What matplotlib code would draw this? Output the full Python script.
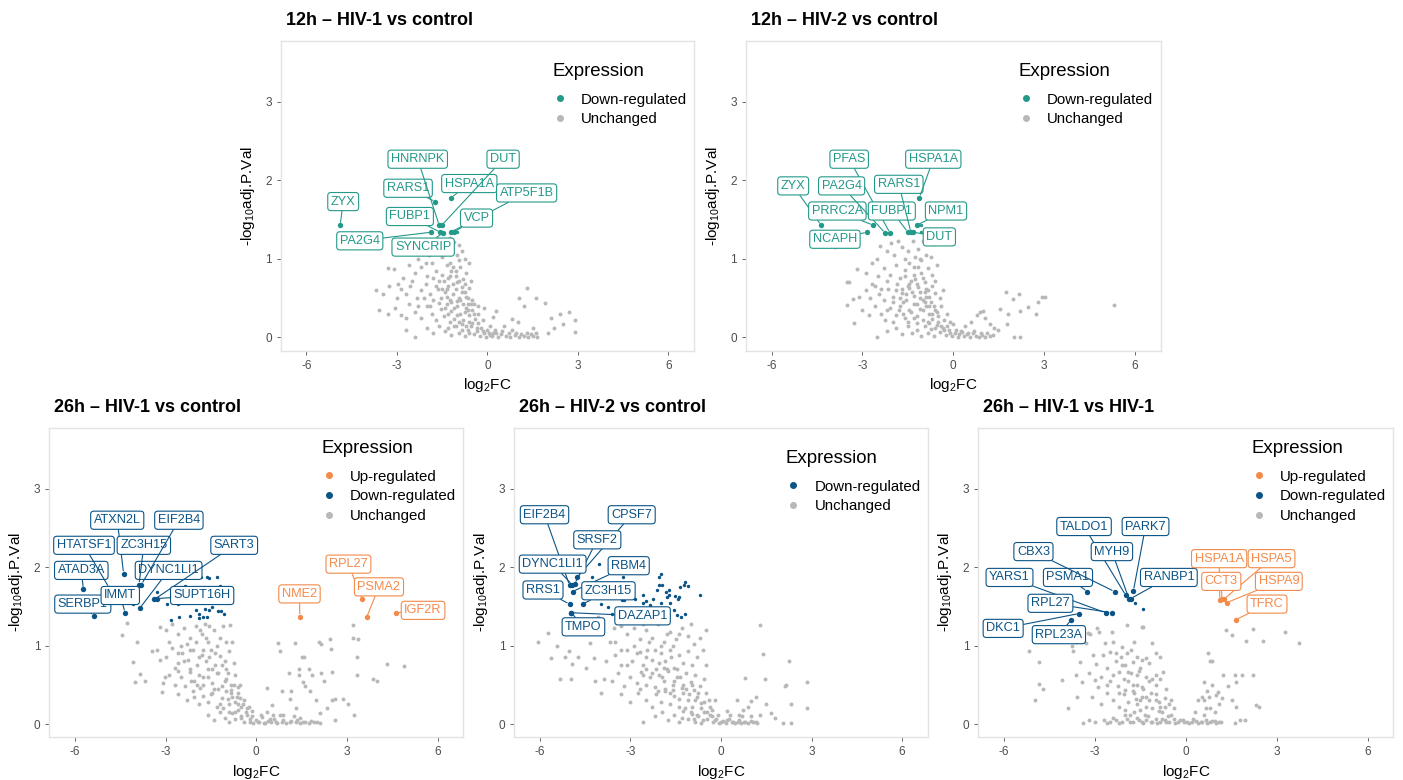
import numpy as np
import matplotlib
matplotlib.use("Agg")
import matplotlib.pyplot as plt
from matplotlib.lines import Line2D

plt.rcParams["font.family"] = ["Liberation Sans", "DejaVu Sans"]
plt.rcParams["mathtext.default"] = "regular"
plt.rcParams["axes.unicode_minus"] = False

TEAL = "#23998A"
BLUE = "#0B5487"
ORANGE = "#F48A4A"
GREY = "#B8B8B8"

# ---------------- 12h HIV-1 vs control ----------------
t1_down_genes = ["ZYX", "RARS1", "HSPA1A", "HNRNPK", "DUT", "FUBP1", "PA2G4", "SYNCRIP", "ATP5F1B", "VCP"]
t1_down_fc = [-4.88, -1.73, -1.20, -1.60, -1.51, -1.57, -1.86, -1.48, -1.22, -1.11]
t1_down_p = [1.43, 1.73, 1.78, 1.43, 1.43, 1.34, 1.34, 1.33, 1.34, 1.34]
t1_small_fc = [-1.02]
t1_small_p = [1.34]
t1_grey = [
    (-1.95, 1.05), (-1.75, 1.1), (-1.6, 1.15), (-1.4, 1.2), (-1.25, 1.27), (-1.1, 1.22), (-0.95, 1.18),
    (-0.85, 1.1), (-1.5, 1.02), (-1.3, 1.08), (-2.3, 1.0), (-0.75, 1.0), (-1.0, 1.05), (-1.65, 1.25), (-2.05, 0.95),
    (-3.3, 0.88), (-3.1, 0.87), (-2.6, 0.92), (-2.4, 0.82), (-2.2, 0.9), (-2.0, 0.78), (-1.85, 0.95), (-1.7, 0.85),
    (-1.5, 0.8), (-1.35, 0.92), (-1.2, 0.85), (-1.05, 0.78), (-0.9, 0.9), (-0.7, 0.82), (-0.6, 0.95), (-2.8, 0.75),
    (-1.6, 0.72), (-1.0, 0.7), (-0.55, 0.72), (-2.5, 0.72), (-1.3, 0.75), (-0.8, 0.74),
    (-3.7, 0.6), (-3.45, 0.55), (-3.25, 0.65), (-3.0, 0.5), (-2.85, 0.62), (-2.7, 0.55), (-2.55, 0.65), (-2.35, 0.5),
    (-2.2, 0.6), (-2.05, 0.68), (-1.9, 0.55), (-1.8, 0.48), (-1.65, 0.62), (-1.55, 0.5), (-1.4, 0.58), (-1.3, 0.66),
    (-1.15, 0.55), (-1.05, 0.62), (-0.95, 0.5), (-0.85, 0.58), (-0.7, 0.52), (-0.6, 0.63), (-0.5, 0.48), (-1.25, 0.48),
    (-0.75, 0.68), (-2.95, 0.68), (-1.0, 0.46),
    (-3.6, 0.35), (-3.3, 0.3), (-3.05, 0.38), (-2.85, 0.28), (-2.6, 0.42), (-2.4, 0.32), (-2.2, 0.25), (-2.0, 0.4),
    (-1.85, 0.3), (-1.7, 0.22), (-1.55, 0.36), (-1.45, 0.27), (-1.35, 0.42), (-1.2, 0.33), (-1.1, 0.24), (-1.0, 0.4),
    (-0.9, 0.3), (-0.8, 0.22), (-0.7, 0.38), (-0.6, 0.28), (-0.5, 0.35), (-0.4, 0.24), (-0.3, 0.3), (-0.15, 0.22),
    (-1.6, 0.44), (-0.95, 0.2), (-1.25, 0.2), (-0.65, 0.43), (-2.7, 0.25), (-0.45, 0.42),
    (-2.4, 0.01), (-2.7, 0.1), (-2.0, 0.12), (-1.8, 0.05), (-1.6, 0.15), (-1.4, 0.08), (-1.2, 0.03), (-1.1, 0.14),
    (-0.95, 0.06), (-0.85, 0.17), (-0.75, 0.02), (-0.65, 0.1), (-0.55, 0.15), (-0.45, 0.04), (-0.35, 0.12),
    (-0.25, 0.02), (-0.15, 0.08), (-0.05, 0.01), (0.05, 0.05), (0.15, 0.02), (0.25, 0.1), (0.35, 0.01), (0.45, 0.04),
    (0.6, 0.02), (0.75, 0.01), (0.9, 0.03), (1.05, 0.01), (1.2, 0.02), (1.35, 0.01), (1.5, 0.02), (1.65, 0.01),
    (-0.3, 0.18), (-0.6, 0.05), (-1.3, 0.12),
    (1.3, 0.63), (1.05, 0.5), (1.6, 0.5), (1.2, 0.4), (1.9, 0.44), (2.4, 0.3), (2.7, 0.32), (2.9, 0.22), (2.1, 0.25),
    (2.5, 0.17), (2.9, 0.07), (0.8, 0.23), (0.3, 0.34), (0.8, 0.1), (1.5, 0.12), (2.0, 0.05), (2.2, 0.12),
    (0.55, 0.15), (0.2, 0.26), (-0.1, 0.38), (0.1, 0.15), (1.0, 0.2),
    (-1.45, 0.72), (-1.35, 0.62), (-1.25, 0.78), (-1.15, 0.68), (-1.05, 0.85), (-0.95, 0.72), (-0.85, 0.64),
    (-0.75, 0.58), (-0.65, 0.5), (-0.55, 0.42), (-1.4, 0.38), (-1.3, 0.3), (-1.2, 0.45), (-1.1, 0.38), (-1.0, 0.28),
    (-0.9, 0.48), (-0.8, 0.42), (-0.75, 0.32), (-0.7, 0.15), (-0.6, 0.2), (-0.5, 0.18), (-0.45, 0.3), (-0.35, 0.08),
    (-0.3, 0.4), (-0.2, 0.12), (-0.1, 0.06), (0.0, 0.1), (0.1, 0.03), (0.2, 0.06), (0.3, 0.05), (0.5, 0.08),
    (0.7, 0.05), (0.95, 0.06), (1.1, 0.04), (1.3, 0.06), (1.45, 0.04), (1.6, 0.05), (-1.5, 0.62), (-1.7, 0.65),
    (-1.8, 0.75), (-1.9, 0.4), (-2.1, 0.5), (-2.3, 0.4), (-1.35, 0.52), (-1.05, 0.15), (-0.85, 0.1), (-0.65, 0.35),
    (-1.15, 0.9), (-0.95, 0.98), (-1.25, 0.95),
]
t1_label_xy = {
    "ZYX": (-4.78, 1.73), "RARS1": (-2.63, 1.90), "HSPA1A": (-0.60, 1.96), "HNRNPK": (-2.31, 2.27),
    "DUT": (0.52, 2.27), "FUBP1": (-2.57, 1.54), "PA2G4": (-4.23, 1.23), "SYNCRIP": (-2.13, 1.15),
    "ATP5F1B": (1.30, 1.84), "VCP": (-0.36, 1.52),
}

# ---------------- 12h HIV-2 vs control ----------------
t2_down_genes = ["ZYX", "PRRC2A", "NCAPH", "PFAS", "PA2G4", "FUBP1", "RARS1", "HSPA1A", "NPM1", "DUT"]
t2_down_fc = [-4.37, -2.65, -2.85, -2.09, -2.25, -1.50, -1.40, -1.12, -1.21, -1.32]
t2_down_p = [1.43, 1.43, 1.34, 1.33, 1.33, 1.34, 1.34, 1.78, 1.43, 1.34]
t2_small_fc = [-1.05, -1.07]
t2_small_p = [1.43, 1.34]
t2_grey = [
    (-2.42, 1.17), (-2.53, 1.0), (-1.82, 1.23), (-1.32, 1.23), (-1.01, 1.23), (-0.66, 1.19), (-2.2, 1.1),
    (-1.95, 1.05), (-1.7, 1.15), (-1.5, 1.1), (-1.15, 1.12), (-0.9, 1.05), (-0.75, 1.02), (-1.6, 1.0),
    (-1.25, 1.03), (-3.92, 1.15), (-2.05, 1.2),
    (-3.52, 0.71), (-3.45, 0.71), (-3.19, 0.87), (-2.9, 0.82), (-2.7, 0.95), (-2.5, 0.78), (-2.3, 0.88), (-2.1, 0.8),
    (-1.9, 0.92), (-1.75, 0.75), (-1.6, 0.86), (-1.45, 0.95), (-1.3, 0.8), (-1.15, 0.9), (-1.0, 0.76), (-0.85, 0.88),
    (-0.7, 0.8), (-0.55, 0.92), (-2.2, 0.72), (-1.05, 0.98), (-0.6, 0.72), (-1.4, 0.72),
    (-3.3, 0.49), (-3.1, 0.52), (-2.9, 0.6), (-2.75, 0.5), (-2.6, 0.65), (-2.45, 0.55), (-2.3, 0.47), (-2.15, 0.62),
    (-2.0, 0.52), (-1.85, 0.68), (-1.7, 0.57), (-1.55, 0.47), (-1.45, 0.63), (-1.3, 0.53), (-1.2, 0.68), (-1.1, 0.58),
    (-1.0, 0.48), (-0.9, 0.62), (-0.8, 0.52), (-0.7, 0.66), (-0.6, 0.56), (-0.45, 0.5), (-0.35, 0.6), (-1.65, 0.45),
    (-0.95, 0.45),
    (-3.52, 0.41), (-3.27, 0.18), (-3.0, 0.35), (-2.8, 0.28), (-2.6, 0.4), (-2.4, 0.3), (-2.25, 0.22), (-2.1, 0.38),
    (-1.9, 0.28), (-1.75, 0.4), (-1.6, 0.25), (-1.45, 0.35), (-1.3, 0.42), (-1.2, 0.27), (-1.1, 0.36), (-1.0, 0.22),
    (-0.9, 0.4), (-0.8, 0.3), (-0.7, 0.24), (-0.6, 0.35), (-0.5, 0.27), (-0.4, 0.4), (-0.3, 0.22), (-0.2, 0.3),
    (-0.1, 0.2), (-1.5, 0.2), (-0.85, 0.2),
    (-2.53, 0.0), (-2.2, 0.08), (-1.9, 0.12), (-1.7, 0.04), (-1.5, 0.15), (-1.35, 0.06), (-1.2, 0.1), (-1.05, 0.02),
    (-0.95, 0.14), (-0.85, 0.06), (-0.75, 0.11), (-0.65, 0.02), (-0.55, 0.16), (-0.45, 0.07), (-0.35, 0.12),
    (-0.25, 0.03), (-0.15, 0.09), (-0.05, 0.02), (0.05, 0.06), (0.15, 0.01), (0.25, 0.08), (0.35, 0.02), (0.45, 0.04),
    (0.55, 0.01), (0.65, 0.05), (0.75, 0.02), (0.85, 0.01), (0.95, 0.03), (1.05, 0.01), (1.2, 0.02), (2.0, 0.0),
    (2.2, 0.0), (0.4, 0.14), (0.0, 0.17),
    (5.31, 0.41), (1.73, 0.58), (2.18, 0.55), (1.98, 0.49), (2.92, 0.52), (3.03, 0.51), (2.81, 0.45), (2.48, 0.39),
    (2.2, 0.34), (1.54, 0.36), (1.82, 0.3), (0.99, 0.34), (0.88, 0.32), (2.75, 0.3), (1.76, 0.17), (1.49, 0.1),
    (0.77, 0.28), (1.2, 0.17), (0.6, 0.2), (1.05, 0.25), (1.35, 0.12),
    (-1.45, 0.68), (-1.35, 0.58), (-1.25, 0.74), (-1.15, 0.64), (-1.05, 0.82), (-0.95, 0.7), (-0.85, 0.6),
    (-0.75, 0.45), (-0.65, 0.4), (-0.55, 0.32), (-1.4, 0.32), (-1.3, 0.25), (-1.2, 0.42), (-1.1, 0.5), (-1.0, 0.35),
    (-0.9, 0.52), (-0.8, 0.4), (-0.7, 0.3), (-0.6, 0.12), (-0.5, 0.2), (-0.4, 0.15), (-0.3, 0.1), (-0.2, 0.14),
    (-0.1, 0.05), (0.1, 0.1), (0.2, 0.04), (0.3, 0.07), (0.5, 0.06), (0.7, 0.08), (0.9, 0.05), (1.1, 0.06),
    (1.3, 0.03), (-1.55, 0.55), (-1.7, 0.62), (-1.8, 0.35), (-2.0, 0.45), (-2.2, 0.35), (-1.6, 0.78), (-1.3, 0.9),
    (-1.1, 1.0), (-0.95, 0.58), (-0.8, 0.18), (-1.2, 0.18), (-1.5, 0.65), (-1.75, 0.5), (-1.9, 0.6), (-2.4, 0.62),
    (-2.7, 0.68), (-2.0, 0.2), (-1.65, 0.3),
]
t2_label_xy = {
    "ZYX": (-5.29, 1.93), "PRRC2A": (-3.83, 1.61), "NCAPH": (-3.91, 1.25), "PFAS": (-3.44, 2.27),
    "PA2G4": (-3.69, 1.93), "FUBP1": (-2.03, 1.61), "RARS1": (-1.80, 1.95), "HSPA1A": (-0.66, 2.27),
    "NPM1": (-0.24, 1.61), "DUT": (-0.46, 1.28),
}

# ---------------- 26h HIV-1 vs control ----------------
b1_down_genes = ["ATAD3A", "SERBP1", "HTATSF1", "ATXN2L", "IMMT", "DYNC1LI1", "ZC3H15", "EIF2B4", "SART3", "SUPT16H"]
b1_down_fc = [-5.72, -5.38, -4.87, -4.39, -4.34, -3.85, -3.88, -3.80, -3.37, -3.30]
b1_down_p = [1.72, 1.38, 1.74, 1.92, 1.42, 1.48, 1.78, 1.78, 1.59, 1.60]
b1_small_fc = [-4.09, -3.27, -2.97, -2.83, -2.60, -2.57, -2.36, -2.19, -2.15, -1.99, -1.89, -1.82, -1.71, -1.64,
               -1.64, -1.55, -1.55, -1.47, -1.29, -1.20, -1.12, -1.18, -1.07, -1.75, -1.91, -1.86, -1.55, -1.25]
b1_small_p = [1.53, 1.69, 1.53, 1.33, 1.53, 1.37, 1.76, 1.38, 1.74, 1.45, 1.41, 1.87, 1.47, 1.87,
              1.36, 1.86, 1.46, 1.49, 1.87, 1.76, 1.74, 1.44, 1.41, 1.36, 1.35, 1.59, 1.72, 1.44]
b1_up_genes = ["NME2", "RPL27", "PSMA2", "IGF2R"]
b1_up_fc = [1.44, 3.50, 3.65, 4.63]
b1_up_p = [1.37, 1.59, 1.36, 1.42]
b1_grey = [
    (-4.29, 1.29), (-4.43, 1.14), (-3.96, 1.05), (-4.09, 0.79), (-3.85, 0.64), (-4.01, 0.54), (-3.68, 0.55),
    (-3.44, 0.93), (-3.19, 0.82), (-3.08, 0.52), (-3.12, 0.41), (-3.02, 0.6),
    (-3.19, 1.24), (-3.0, 1.2), (-2.8, 1.27), (-2.6, 1.15), (-2.4, 1.22), (-2.2, 1.1), (-2.0, 1.25), (-1.8, 1.15),
    (-1.6, 1.05), (-1.4, 1.2), (-1.2, 1.1), (-1.0, 1.05), (-0.87, 1.26), (-2.9, 1.05), (-2.5, 1.0), (-1.7, 1.28),
    (-1.1, 1.25), (-2.3, 1.02), (-0.8, 1.05),
    (-3.3, 0.95), (-3.0, 0.85), (-2.8, 0.97), (-2.6, 0.78), (-2.45, 0.9), (-2.25, 0.82), (-2.1, 0.95), (-1.95, 0.75),
    (-1.8, 0.88), (-1.65, 0.8), (-1.5, 0.95), (-1.35, 0.75), (-1.2, 0.87), (-1.05, 0.8), (-0.9, 0.93), (-0.75, 0.78),
    (-2.7, 0.72), (-1.6, 0.7), (-1.0, 0.7), (-2.2, 0.7),
    (-2.9, 0.62), (-2.7, 0.5), (-2.5, 0.6), (-2.35, 0.48), (-2.2, 0.66), (-2.05, 0.55), (-1.9, 0.62), (-1.75, 0.5),
    (-1.6, 0.6), (-1.45, 0.52), (-1.3, 0.65), (-1.15, 0.48), (-1.0, 0.58), (-0.85, 0.5), (-0.7, 0.62), (-0.6, 0.47),
    (-1.85, 0.46), (-2.6, 0.68), (-1.4, 0.45),
    (-2.6, 0.38), (-2.3, 0.3), (-2.1, 0.42), (-1.9, 0.25), (-1.75, 0.36), (-1.6, 0.28), (-1.45, 0.4), (-1.3, 0.22),
    (-1.15, 0.33), (-1.0, 0.42), (-0.9, 0.25), (-0.8, 0.35), (-0.7, 0.28), (-0.6, 0.4), (-0.5, 0.22), (-0.4, 0.3),
    (-0.3, 0.2), (-0.55, 0.33), (-1.2, 0.26), (-0.85, 0.44),
    (-1.6, 0.12), (-1.4, 0.05), (-1.2, 0.15), (-1.05, 0.08), (-0.9, 0.02), (-0.8, 0.14), (-0.7, 0.06), (-0.6, 0.18),
    (-0.5, 0.1), (-0.4, 0.03), (-0.3, 0.12), (-0.2, 0.06), (-0.1, 0.01), (0.0, 0.05), (0.1, 0.02), (0.2, 0.09),
    (0.3, 0.01), (0.4, 0.04), (0.5, 0.02), (0.6, 0.06), (0.7, 0.01), (0.85, 0.03), (1.0, 0.01), (1.15, 0.04),
    (1.3, 0.02), (1.45, 0.01), (1.6, 0.03), (1.75, 0.01), (1.9, 0.02), (2.1, 0.01), (0.35, 0.15), (-0.15, 0.16),
    (0.9, 0.12), (1.25, 0.1),
    (0.71, 1.04), (1.28, 1.04), (0.78, 0.93), (2.08, 1.05), (2.13, 1.02), (2.44, 1.08), (2.47, 0.96), (1.53, 0.86),
    (1.58, 0.85), (3.21, 1.26), (3.21, 1.1), (3.37, 1.08), (3.34, 0.86), (3.32, 0.62), (3.85, 0.58), (4.0, 0.55),
    (4.31, 0.77), (4.88, 0.74), (1.07, 0.65), (1.4, 0.7), (1.75, 0.7), (1.42, 0.62), (1.55, 0.53), (1.86, 0.62),
    (2.13, 0.65), (2.49, 0.66), (2.24, 0.55), (1.6, 0.48), (1.78, 0.42), (0.34, 0.46), (0.84, 0.42), (1.11, 0.32),
    (1.15, 0.42), (1.97, 0.31), (2.49, 0.31), (2.6, 0.32), (2.88, 0.32), (3.04, 0.25), (3.23, 0.11), (2.33, 0.2),
    (2.1, 0.14), (1.33, 0.2), (0.78, 0.11), (0.51, 0.24), (1.45, 0.08), (2.6, 0.05),
    (-2.2, 0.95), (-2.0, 1.05), (-1.9, 0.85), (-1.75, 0.95), (-1.65, 1.1), (-1.55, 0.85), (-1.45, 0.7), (-1.35, 0.9),
    (-1.25, 0.65), (-1.15, 0.75), (-1.05, 0.55), (-0.95, 0.65), (-0.85, 0.4), (-0.75, 0.5), (-0.65, 0.35),
    (-0.55, 0.5), (-0.45, 0.25), (-0.35, 0.15), (-0.25, 0.22), (-0.15, 0.1), (-1.75, 0.6), (-1.95, 0.5),
    (-2.15, 0.55), (-1.5, 0.38), (-1.25, 0.45), (-1.1, 0.2), (-0.95, 0.32), (-0.7, 0.15), (-0.5, 0.08), (-2.4, 0.8),
    (-2.6, 0.9), (-1.85, 1.2), (-1.55, 1.25), (-1.3, 1.0), (-0.2, 0.02), (0.05, 0.03), (0.25, 0.01), (0.45, 0.06),
    (0.65, 0.03), (0.9, 0.05), (1.1, 0.02), (1.35, 0.05), (1.55, 0.02), (1.8, 0.04), (2.0, 0.03), (0.15, 0.12),
    (0.55, 0.12), (-0.6, 0.25), (-0.9, 0.15), (-2.05, 0.35),
]
b1_label_xy = {
    "ATAD3A": (-5.79, 1.96), "SERBP1": (-5.74, 1.53), "HTATSF1": (-5.70, 2.28), "ATXN2L": (-4.60, 2.60),
    "IMMT": (-4.50, 1.64), "DYNC1LI1": (-2.90, 1.96), "ZC3H15": (-3.72, 2.28), "EIF2B4": (-2.56, 2.60),
    "SART3": (-0.73, 2.28), "SUPT16H": (-1.79, 1.64),
    "NME2": (1.43, 1.66), "RPL27": (3.05, 2.04), "PSMA2": (4.06, 1.75), "IGF2R": (5.52, 1.45),
}

# ---------------- 26h HIV-2 vs control ----------------
b2_down_genes = ["EIF2B4", "CPSF7", "SRSF2", "DYNC1LI1", "RBM4", "RRS1", "ZC3H15", "DAZAP1", "TMPO"]
b2_down_fc = [-5.02, -4.77, -4.85, -4.94, -4.92, -5.02, -4.58, -4.98, -4.96]
b2_down_p = [1.77, 1.87, 1.79, 1.78, 1.69, 1.53, 1.53, 1.42, 1.42]
b2_small_fc = [-4.27, -4.05, -3.98, -3.76, -3.61, -3.25, -3.28, -3.20, -2.86, -2.60, -2.57, -2.49, -2.35, -2.26,
               -2.13, -2.07, -1.98, -2.04, -1.94, -1.98, -1.82, -1.74, -1.80, -1.72, -1.57, -1.52, -1.46, -1.44,
               -1.38, -1.35, -1.33, -1.24, -1.19, -1.11, -1.19, -0.69, -2.29, -1.68]
b2_small_p = [1.87, 2.04, 1.53, 1.49, 1.41, 1.87, 1.58, 1.58, 1.60, 1.64, 1.54, 1.57, 1.52, 1.59,
              1.71, 1.78, 1.92, 1.87, 1.78, 1.55, 1.69, 1.65, 1.62, 1.71, 1.45, 1.63, 1.39, 1.59,
              1.62, 1.75, 1.36, 1.78, 1.81, 1.76, 1.41, 1.64, 1.45, 1.54]
b2_grey = [
    (-6.06, 1.05), (-5.74, 1.16), (-5.45, 1.0), (-5.65, 0.84), (-5.34, 0.57), (-5.18, 0.85), (-5.04, 0.93),
    (-4.93, 0.76), (-4.96, 0.57), (-4.75, 0.86), (-4.35, 1.03), (-4.49, 0.72), (-4.09, 1.37), (-4.22, 0.84),
    (-4.18, 0.55), (-3.98, 0.39), (-3.89, 0.58), (-3.8, 0.8), (-3.67, 1.05), (-3.56, 1.22),
    (-3.3, 1.25), (-3.1, 1.15), (-2.9, 1.22), (-2.7, 1.08), (-2.5, 1.2), (-2.3, 1.1), (-2.1, 1.27), (-1.9, 1.05),
    (-1.7, 1.18), (-1.5, 1.08), (-1.3, 1.22), (-1.1, 1.12), (-0.9, 1.02), (-0.5, 1.2), (-3.5, 1.05), (-2.0, 1.0),
    (-1.0, 1.28), (-0.7, 1.1), (-2.6, 1.28),
    (-3.5, 0.88), (-3.3, 0.75), (-3.1, 0.95), (-2.95, 0.8), (-2.8, 0.9), (-2.6, 0.75), (-2.45, 0.95), (-2.3, 0.82),
    (-2.15, 0.7), (-2.0, 0.9), (-1.85, 0.8), (-1.7, 0.95), (-1.55, 0.72), (-1.4, 0.88), (-1.25, 0.78), (-1.1, 0.93),
    (-0.95, 0.75), (-0.8, 0.85), (-0.6, 0.95), (-0.5, 0.75), (-2.5, 0.7), (-1.9, 0.72),
    (-3.6, 0.55), (-3.4, 0.65), (-3.2, 0.48), (-3.0, 0.6), (-2.8, 0.52), (-2.65, 0.66), (-2.5, 0.5), (-2.35, 0.6),
    (-2.2, 0.47), (-2.05, 0.63), (-1.9, 0.55), (-1.75, 0.68), (-1.6, 0.5), (-1.45, 0.6), (-1.3, 0.46), (-1.15, 0.65),
    (-1.0, 0.53), (-0.85, 0.62), (-0.7, 0.48), (-0.55, 0.58), (-2.7, 0.45), (-1.85, 0.45),
    (-3.3, 0.38), (-3.0, 0.28), (-2.75, 0.4), (-2.5, 0.3), (-2.3, 0.22), (-2.15, 0.38), (-2.0, 0.28), (-1.85, 0.42),
    (-1.7, 0.25), (-1.55, 0.36), (-1.4, 0.22), (-1.25, 0.4), (-1.1, 0.3), (-0.95, 0.22), (-0.8, 0.35), (-0.65, 0.27),
    (-0.5, 0.4), (-0.35, 0.22), (-0.2, 0.3), (-0.9, 0.43), (-1.6, 0.43),
    (-2.6, 0.02), (-2.2, 0.1), (-1.95, 0.15), (-1.75, 0.05), (-1.55, 0.12), (-1.4, 0.02), (-1.25, 0.17),
    (-1.1, 0.07), (-0.95, 0.13), (-0.85, 0.03), (-0.75, 0.1), (-0.65, 0.01), (-0.55, 0.15), (-0.45, 0.06),
    (-0.35, 0.11), (-0.25, 0.02), (-0.15, 0.07), (-0.05, 0.01), (0.05, 0.04), (0.15, 0.01), (0.25, 0.06),
    (0.35, 0.02), (0.45, 0.01), (0.55, 0.03), (0.65, 0.01), (0.75, 0.02), (0.9, 0.01), (1.05, 0.02), (1.2, 0.01),
    (0.2, 0.16), (-0.3, 0.18), (0.6, 0.12), (1.0, 0.1),
    (1.29, 1.26), (1.38, 0.89), (2.25, 0.8), (0.79, 0.59), (1.45, 0.57), (2.11, 0.49), (2.17, 0.5), (2.86, 0.54),
    (2.86, 0.2), (2.33, 0.25), (1.49, 0.25), (1.01, 0.29), (0.52, 0.31), (0.74, 0.18), (1.67, 0.14), (1.8, 0.08),
    (2.06, 0.01), (2.31, 0.01), (1.29, 0.12), (0.9, 0.22), (1.15, 0.35),
    (-2.9, 1.0), (-2.7, 0.92), (-2.5, 0.85), (-2.4, 1.05), (-2.2, 0.95), (-2.05, 0.78), (-1.95, 0.6), (-1.8, 0.7),
    (-1.65, 0.85), (-1.55, 0.55), (-1.45, 0.7), (-1.35, 0.6), (-1.25, 0.5), (-1.15, 0.45), (-1.05, 0.38),
    (-0.95, 0.5), (-0.85, 0.3), (-0.75, 0.4), (-0.65, 0.2), (-0.55, 0.28), (-0.45, 0.15), (-0.4, 0.3), (-0.3, 0.1),
    (-2.3, 0.65), (-2.6, 0.62), (-2.1, 0.42), (-1.7, 0.4), (-1.4, 0.32), (-1.2, 0.2), (-1.0, 0.15), (-0.8, 0.12),
    (-1.6, 1.0), (-1.8, 1.15), (-1.4, 1.15), (-0.2, 0.05), (0.0, 0.02), (0.2, 0.05), (0.4, 0.03), (0.6, 0.05),
    (0.8, 0.03), (1.0, 0.04), (1.15, 0.02), (0.3, 0.12), (-0.1, 0.12), (0.7, 0.1), (-0.6, 0.05), (-0.9, 0.06),
    (-1.3, 0.08), (-3.1, 0.75), (-3.3, 0.95),
]
b2_label_xy = {
    "EIF2B4": (-5.85, 2.67), "CPSF7": (-2.96, 2.67), "SRSF2": (-4.10, 2.35), "DYNC1LI1": (-5.58, 2.04),
    "RBM4": (-3.06, 2.02), "RRS1": (-5.90, 1.71), "ZC3H15": (-3.73, 1.70), "DAZAP1": (-2.60, 1.38),
    "TMPO": (-4.56, 1.24),
}

# ---------------- 26h HIV-1 vs HIV-1 ----------------
b3_down_genes = ["PSMA1", "CBX3", "TALDO1", "MYH9", "PARK7", "RANBP1", "YARS1", "RPL27", "DKC1", "RPL23A"]
b3_down_fc = [-3.25, -2.35, -1.98, -1.87, -1.73, -1.82, -2.65, -2.45, -3.52, -3.78]
b3_down_p = [1.69, 1.69, 1.64, 1.59, 1.70, 1.60, 1.42, 1.42, 1.41, 1.33]
b3_small_fc = [-1.68, -1.42]
b3_small_p = [1.55, 1.47]
b3_up_genes = ["HSPA1A", "HSPA5", "CCT3", "HSPA9", "TFRC"]
b3_up_fc = [1.12, 1.25, 1.19, 1.36, 1.65]
b3_up_p = [1.58, 1.59, 1.59, 1.55, 1.33]
b3_grey = [
    (-5.17, 0.93), (-4.84, 0.79), (-4.84, 0.51), (-4.71, 0.45), (-4.98, 0.31), (-3.88, 0.2), (-4.1, 0.56),
    (-3.77, 0.99), (-3.74, 0.93), (-3.61, 1.05), (-3.3, 1.03), (-3.22, 1.16), (-3.15, 1.15), (-2.92, 1.22),
    (-2.87, 1.17), (-3.5, 0.79), (-3.61, 0.62), (-3.44, 0.54), (-3.58, 0.35), (-3.41, 0.01), (-3.2, 0.05),
    (-3.0, 0.56), (-2.95, 0.77), (-3.06, 0.88), (-2.73, 0.88), (-2.67, 1.04), (-2.4, 1.05), (-2.45, 1.18),
    (-1.94, 1.26), (-1.46, 1.24), (-1.4, 1.24), (-2.1, 0.98), (-1.1, 1.03), (-1.74, 0.79), (-1.3, 0.84),
    (-0.86, 0.86), (-1.13, 0.58), (-0.86, 0.58), (-0.64, 0.45),
    (-2.5, 0.92), (-2.3, 0.8), (-2.1, 0.75), (-1.95, 0.9), (-1.8, 0.95), (-1.6, 0.85), (-1.5, 0.72), (-1.2, 0.78),
    (-1.0, 0.9), (-2.6, 0.72), (-2.2, 0.66),
    (-3.2, 0.65), (-2.8, 0.6), (-2.6, 0.5), (-2.4, 0.62), (-2.25, 0.48), (-2.05, 0.58), (-1.9, 0.66), (-1.75, 0.5),
    (-1.6, 0.62), (-1.45, 0.47), (-1.3, 0.6), (-1.0, 0.5), (-0.75, 0.66), (-2.9, 0.47), (-1.55, 0.68),
    (-3.1, 0.35), (-2.8, 0.25), (-2.6, 0.4), (-2.4, 0.3), (-2.2, 0.22), (-2.05, 0.38), (-1.9, 0.28), (-1.75, 0.42),
    (-1.6, 0.25), (-1.45, 0.35), (-1.3, 0.22), (-1.15, 0.4), (-1.0, 0.3), (-0.85, 0.22), (-0.7, 0.33),
    (-0.55, 0.25), (-0.4, 0.2), (-2.0, 0.44), (-1.2, 0.3),
    (-3.0, 0.02), (-2.6, 0.01), (-2.4, 0.08), (-2.2, 0.01), (-2.0, 0.12), (-1.85, 0.03), (-1.7, 0.15), (-1.55, 0.05),
    (-1.4, 0.01), (-1.25, 0.1), (-1.1, 0.03), (-0.95, 0.01), (-0.8, 0.07), (-0.65, 0.02), (-0.5, 0.12),
    (-0.35, 0.01), (-0.2, 0.05), (-0.05, 0.02), (0.1, 0.01), (0.25, 0.06), (0.4, 0.01), (0.55, 0.03), (0.7, 0.01),
    (0.85, 0.04), (1.0, 0.01), (1.15, 0.02), (-1.5, 0.18), (-0.9, 0.16), (0.3, 0.15), (0.6, 0.12),
    (0.72, 0.9), (0.81, 0.8), (0.88, 0.8), (1.23, 0.62), (1.62, 0.62), (1.87, 0.62), (2.22, 0.63), (1.67, 0.53),
    (1.38, 0.48), (1.07, 0.41), (0.85, 0.5), (0.59, 0.54), (0.55, 0.35), (1.01, 0.37), (1.2, 0.33), (1.54, 0.31),
    (1.67, 0.22), (2.31, 0.24), (2.42, 0.22), (1.78, 0.05), (1.95, 0.05), (1.62, 0.01), (1.34, 1.2), (1.54, 1.13),
    (2.22, 1.21), (2.0, 1.06), (2.55, 1.06), (3.29, 1.17), (3.74, 1.03), (0.4, 0.3), (0.65, 0.2), (0.95, 0.15),
    (0.7, 0.42), (1.1, 0.25),
    (-2.3, 0.9), (-2.15, 0.85), (-2.0, 0.75), (-1.9, 0.55), (-1.8, 0.65), (-1.7, 0.4), (-1.6, 0.5), (-1.5, 0.3),
    (-1.4, 0.45), (-1.3, 0.35), (-1.2, 0.55), (-1.1, 0.2), (-1.0, 0.38), (-0.9, 0.28), (-0.8, 0.15), (-0.7, 0.22),
    (-0.6, 0.1), (-0.5, 0.3), (-2.2, 0.4), (-2.5, 0.55), (-1.85, 0.12), (-1.65, 0.32), (-1.35, 0.12), (-1.0, 0.62),
    (-1.45, 0.82), (-1.7, 1.05), (-2.0, 0.18), (-2.7, 0.05), (-2.5, 0.03), (-2.3, 0.05), (-2.1, 0.02),
    (-1.95, 0.06), (-1.75, 0.02), (-1.6, 0.08), (-1.45, 0.03), (-1.3, 0.05), (-1.15, 0.02), (-1.0, 0.06),
    (-0.85, 0.03), (-0.7, 0.05), (-0.55, 0.02), (-0.4, 0.06), (-0.25, 0.03), (-0.1, 0.05), (0.05, 0.03),
    (0.2, 0.02), (0.35, 0.04), (0.5, 0.02), (0.65, 0.05), (0.8, 0.02), (0.95, 0.04), (1.1, 0.03), (0.6, 0.3),
    (0.75, 0.35), (0.8, 0.2),
]
b3_label_xy = {
    "PSMA1": (-3.89, 1.87), "CBX3": (-5.03, 2.20), "TALDO1": (-3.36, 2.52), "MYH9": (-2.44, 2.20),
    "PARK7": (-1.33, 2.52), "RANBP1": (-0.56, 1.87), "YARS1": (-5.82, 1.87), "RPL27": (-4.47, 1.54),
    "DKC1": (-6.03, 1.22), "RPL23A": (-4.19, 1.14),
    "HSPA1A": (1.10, 2.11), "HSPA5": (2.83, 2.11), "CCT3": (1.17, 1.82), "HSPA9": (3.07, 1.82),
    "TFRC": (2.68, 1.53),
}


def add_labels(ax, genes, fc, p, pos, color):
    for g, x, y in zip(genes, fc, p):
        ax.annotate(g, xy=(x, y), xytext=pos[g], textcoords="data",
                    ha="center", va="center", fontsize=9.2, color=color, zorder=5,
                    bbox=dict(boxstyle="round,pad=0.24,rounding_size=0.25", fc="white", ec=color, lw=0.8),
                    arrowprops=dict(arrowstyle="-", color=color, lw=0.8, shrinkA=0, shrinkB=2))


def panel(rect, title, grey, down, small, up, labels, down_color):
    ax = fig.add_axes(rect)
    g = np.array(grey)
    ax.scatter(g[:, 0], g[:, 1], s=8, color=GREY, lw=0, zorder=1)
    ax.scatter(small[0], small[1], s=6, color=down_color, lw=0, zorder=2)
    ax.scatter(down[1], down[2], s=15, color=down_color, lw=0, zorder=3)
    add_labels(ax, down[0], down[1], down[2], labels, down_color)
    handles = []
    if up is not None:
        ax.scatter(up[1], up[2], s=15, color=ORANGE, lw=0, zorder=3)
        add_labels(ax, up[0], up[1], up[2], labels, ORANGE)
        handles.append(Line2D([], [], ls="", marker="o", ms=4, color=ORANGE, label="Up-regulated"))
    handles.append(Line2D([], [], ls="", marker="o", ms=4, color=down_color, label="Down-regulated"))
    handles.append(Line2D([], [], ls="", marker="o", ms=4, color=GREY, label="Unchanged"))
    leg = ax.legend(handles=handles, title="Expression", loc="center", bbox_to_anchor=(0.82, 0.826),
                    frameon=False, fontsize=10.8, title_fontsize=13.4, alignment="left",
                    handletextpad=0.9, labelspacing=0.38, handlelength=1.0)
    leg._legend_box.sep = 9

    ax.set_xlim(-6.85, 6.85)
    ax.set_ylim(-0.17, 3.78)
    ax.set_xticks([-6, -3, 0, 3, 6])
    ax.set_yticks([0, 1, 2, 3])
    ax.tick_params(colors="#4D4D4D", labelsize=8.5, length=3, width=0.6)
    for s in ax.spines.values():
        s.set_color("#E3E3E3")
        s.set_linewidth(1.0)
    ax.set_xlabel("log$_{2}$FC", fontsize=11, labelpad=3)
    ax.set_ylabel("-log$_{10}$adj.P.Val", fontsize=11, labelpad=6)
    ax.text(0.012, 1.064, title, transform=ax.transAxes, fontsize=13, fontweight="bold",
            ha="left", va="center")
    return ax


fig = plt.figure(figsize=(14.03, 7.8), dpi=100)

panel([0.2001, 0.5504, 0.2946, 0.3974], "12h – HIV-1 vs control", t1_grey,
      (t1_down_genes, t1_down_fc, t1_down_p), (t1_small_fc, t1_small_p), None, t1_label_xy, TEAL)
panel([0.5317, 0.5504, 0.2955, 0.3974], "12h – HIV-2 vs control", t2_grey,
      (t2_down_genes, t2_down_fc, t2_down_p), (t2_small_fc, t2_small_p), None, t2_label_xy, TEAL)
panel([0.0351, 0.0547, 0.2951, 0.3969], "26h – HIV-1 vs control", b1_grey,
      (b1_down_genes, b1_down_fc, b1_down_p), (b1_small_fc, b1_small_p),
      (b1_up_genes, b1_up_fc, b1_up_p), b1_label_xy, BLUE)
panel([0.3666, 0.0547, 0.2946, 0.3969], "26h – HIV-2 vs control", b2_grey,
      (b2_down_genes, b2_down_fc, b2_down_p), (b2_small_fc, b2_small_p), None, b2_label_xy, BLUE)
panel([0.6973, 0.0547, 0.2958, 0.3969], "26h – HIV-1 vs HIV-1", b3_grey,
      (b3_down_genes, b3_down_fc, b3_down_p), (b3_small_fc, b3_small_p),
      (b3_up_genes, b3_up_fc, b3_up_p), b3_label_xy, BLUE)

fig.savefig("out.png", dpi=100)
